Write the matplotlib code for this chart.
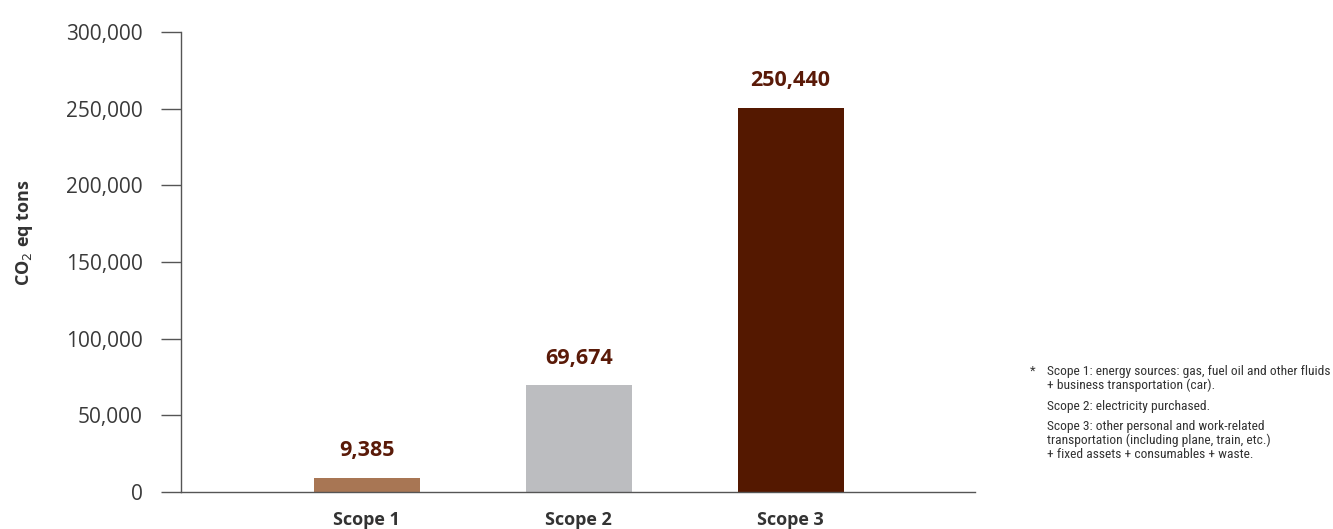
"""Bar chart of CO2 equivalent emissions per scope."""
import matplotlib
matplotlib.use("Agg")
import matplotlib.pyplot as plt
from matplotlib.ticker import FuncFormatter

# Data
scopes = ["Scope 1", "Scope 2", "Scope 3"]
emissions = [9385, 69674, 250440]
barColors = ["#a87654", "#bcbdc0", "#541800"]
yTicks = [0, 50000, 100000, 150000, 200000, 250000, 300000]
notes = [
    "Scope 1: energy sources: gas, fuel oil and other fluids\n+ business transportation (car).",
    "Scope 2: electricity purchased.",
    "Scope 3: other personal and work-related\ntransportation (including plane, train, etc.)\n+ fixed assets + consumables + waste.",
]

plt.rcParams['font.family'] = ['Open Sans', 'DejaVu Sans']
axisColor = '#555555'
textColor = '#333333'
labelColor = '#5a1a08'

fig = plt.figure(figsize=(13.33, 5.29), dpi=100)
ax = fig.add_axes([0.1358, 0.0699, 0.5956, 0.8696])

positions = list(range(len(scopes)))
bars = ax.bar(positions, emissions, width=0.5, color=barColors)

# Value labels above the bars
for bar, value in zip(bars, emissions):
    ax.annotate(f"{value:,}", (bar.get_x() + bar.get_width() / 2, value),
                xytext=(0, 12), textcoords='offset points', ha='center', va='bottom',
                fontsize=15.5, fontweight='bold', color=labelColor)

ax.set_xlim(-0.877, 2.87)
ax.set_ylim(0, 300000)
ax.set_yticks(yTicks)
ax.yaxis.set_major_formatter(FuncFormatter(lambda v, _: f"{int(v):,}"))
ax.set_xticks(positions)
ax.set_xticklabels(scopes, fontweight='bold', fontsize=13, color=textColor)

# Axes style: only the left and bottom lines
for side in ['top', 'right']:
    ax.spines[side].set_visible(False)
for side in ['left', 'bottom']:
    ax.spines[side].set_color(axisColor)
    ax.spines[side].set_linewidth(1.0)
ax.tick_params(axis='y', length=14.4, width=1.0, color=axisColor, pad=13, labelsize=15, labelcolor='#3a3a3a')
ax.tick_params(axis='x', length=0, pad=14)

ax.set_ylabel("CO$_2$ eq tons", fontweight='bold', fontsize=13, color=textColor, labelpad=0)
ax.yaxis.set_label_coords(-0.184, 0.563, transform=ax.transAxes)

# Footnote on the right
noteFamily = ['Roboto Condensed', 'Roboto', 'DejaVu Sans']
fig.text(1030 / 1333, 1 - 371 / 529, "*", fontsize=9.5, color=textColor, va='center', family=noteFamily)
noteY = [365, 400, 420]
for y, note in zip(noteY, notes):
    fig.text(1047 / 1333, 1 - y / 529, note, fontsize=9.7, color=textColor, va='top',
             linespacing=1.1, family=noteFamily)

fig.savefig("out.png", dpi=100)
